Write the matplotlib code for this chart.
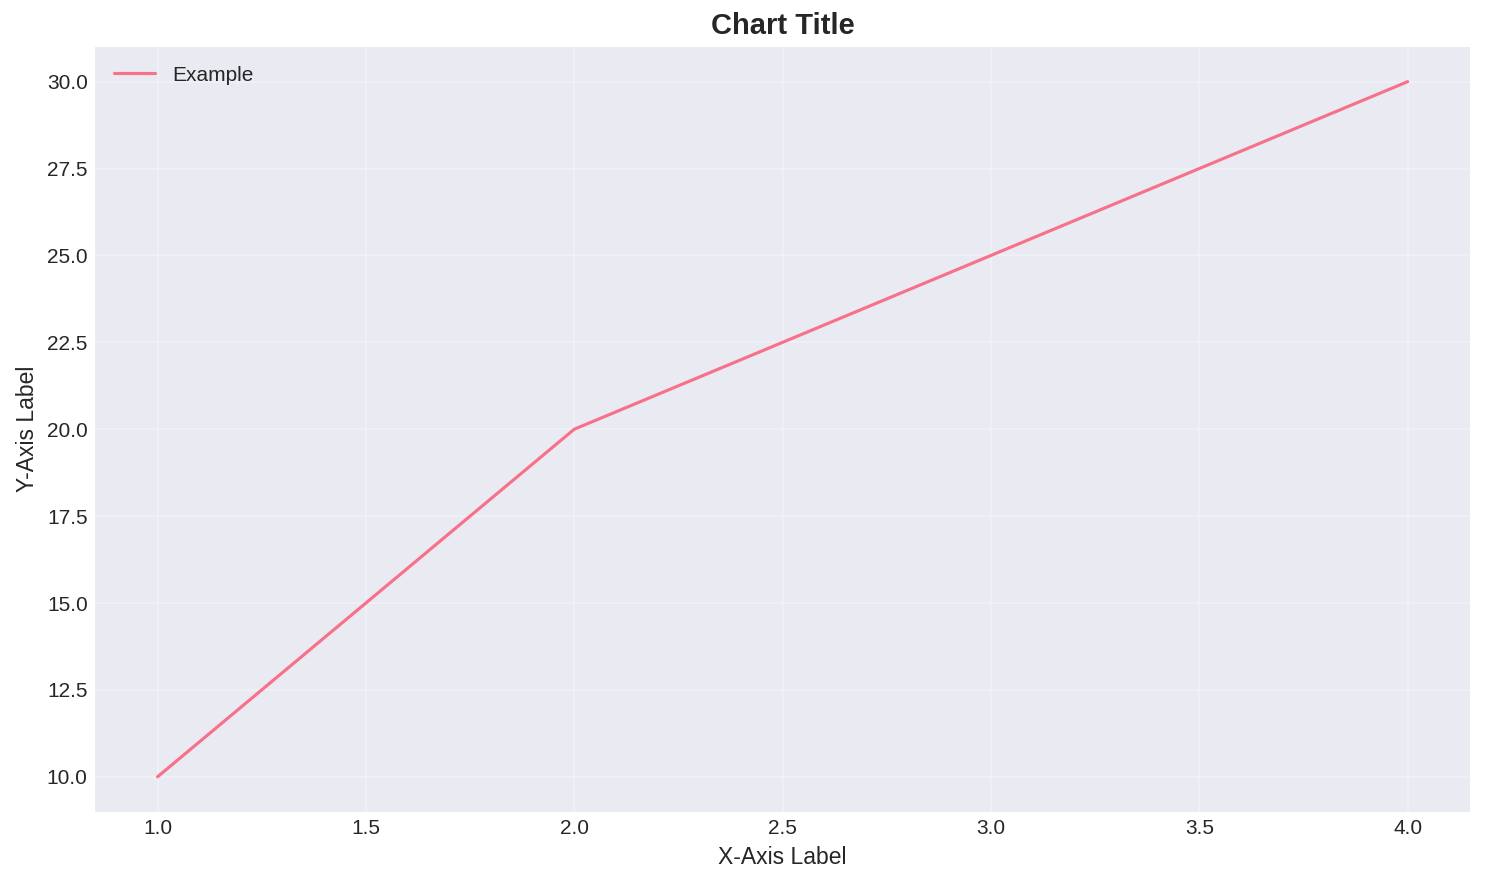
import matplotlib
matplotlib.use('Agg')
import matplotlib.pyplot as plt

x = [1, 2, 3, 4]
y = [10, 20, 25, 30]

plt.style.use('seaborn-v0_8-darkgrid')
plt.rcParams['font.family'] = ['Liberation Sans', 'DejaVu Sans']

fig, ax = plt.subplots(figsize=(9.9, 5.9), dpi=150)
fig.subplots_adjust(left=0.064, right=0.99, top=0.947, bottom=0.083)

ax.plot(x, y, color='#f77189', linewidth=1.5, label='Example')
ax.grid(True, alpha=0.3)

ax.set_title('Chart Title', fontsize=14, fontweight='bold')
ax.set_xlabel('X-Axis Label', fontsize=11)
ax.set_ylabel('Y-Axis Label', fontsize=11)
ax.tick_params(labelsize=10)
ax.legend(loc='upper left', fontsize=10)

fig.savefig('out.png', dpi=150)
